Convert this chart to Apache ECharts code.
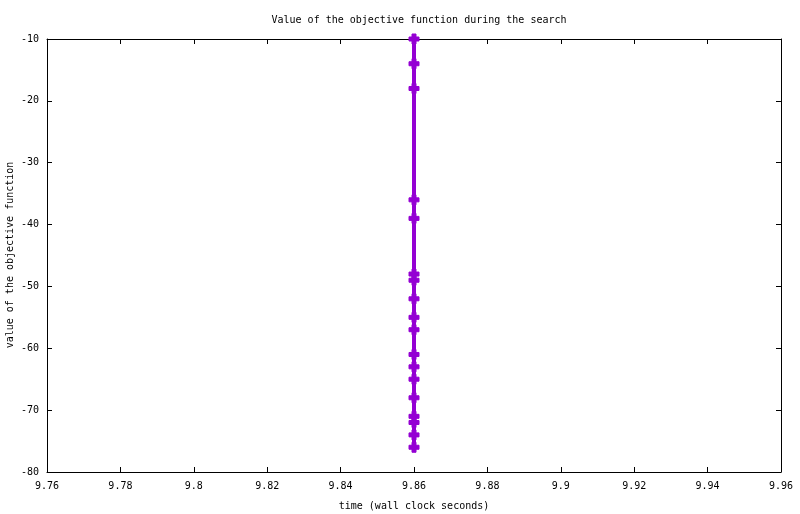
<!DOCTYPE html>
<html>
<head>
<meta charset="utf-8">
<script src="https://cdn.jsdelivr.net/npm/echarts@6/dist/echarts.min.js"></script>
<style>html,body{margin:0;padding:0;background:#fff;}#c{width:800px;height:514px;}</style>
</head>
<body>
<div id="c"></div>
<script>
var timeValues = [9.86, 9.86, 9.86, 9.86, 9.86, 9.86, 9.86, 9.86, 9.86, 9.86, 9.86, 9.86, 9.86, 9.86, 9.86, 9.86, 9.86, 9.86];
var objectiveValues = [-10, -14, -18, -36, -39, -48, -49, -52, -55, -57, -61, -63, -65, -68, -71, -72, -74, -76];
var xTicks = {min: 9.76, max: 9.96, interval: 0.02};
var yTicks = {min: -80, max: -10, interval: 10};
var yAxisTitle = 'value of the objective function';

var FONT = 'DejaVu Sans Mono';
var chart = echarts.init(document.getElementById('c'), null, {renderer: 'canvas'});
var pts = timeValues.map(function (t, i) { return [t, objectiveValues[i]]; });
var lineStyle = {color: '#000', width: 1};
var tick = {show: true, inside: true, length: 5, lineStyle: {color: '#000', width: 1}};
function fmtX(v) { return String(parseFloat(v.toFixed(2))); }
chart.setOption({
  animation: false,
  backgroundColor: '#fff',
  textStyle: {fontFamily: FONT},
  title: {
    text: 'Value of the objective function during the search',
    left: 414, top: 10, textAlign: 'center',
    textStyle: {fontFamily: FONT, fontSize: 10, fontWeight: 'normal', color: '#000'}
  },
  graphic: [{
    type: 'text', x: 10, y: 255, rotation: Math.PI / 2,
    style: {text: yAxisTitle, fill: '#000', font: '10px "DejaVu Sans Mono"', align: 'center', verticalAlign: 'middle'}
  }],
  grid: {left: 47, right: 19, top: 39, bottom: 42, containLabel: false, outerBoundsMode: 'none'},
  xAxis: [{
    type: 'value', min: xTicks.min, max: xTicks.max, interval: xTicks.interval,
    name: 'time (wall clock seconds)', nameLocation: 'middle', nameGap: 29, nameMoveOverlap: false,
    nameTextStyle: {fontFamily: FONT, fontSize: 10, color: '#000'},
    axisLine: {show: true, lineStyle: lineStyle, onZero: false},
    axisTick: tick, splitLine: {show: false},
    axisLabel: {fontFamily: FONT, fontSize: 10, color: '#000', margin: 9, formatter: fmtX}
  }, {
    type: 'value', position: 'top', min: xTicks.min, max: xTicks.max, interval: xTicks.interval,
    axisLine: {show: true, lineStyle: lineStyle, onZero: false},
    axisTick: tick, splitLine: {show: false}, axisLabel: {show: false}
  }],
  yAxis: [{
    type: 'value', min: yTicks.min, max: yTicks.max, interval: yTicks.interval,
    axisLine: {show: true, lineStyle: lineStyle, onZero: false},
    axisTick: tick, splitLine: {show: false},
    axisLabel: {fontFamily: FONT, fontSize: 10, color: '#000', margin: 8}
  }, {
    type: 'value', position: 'right', min: yTicks.min, max: yTicks.max, interval: yTicks.interval,
    axisLine: {show: true, lineStyle: lineStyle, onZero: false},
    axisTick: tick, splitLine: {show: false}, axisLabel: {show: false}
  }],
  series: [{
    type: 'line', xAxisIndex: 0, yAxisIndex: 0,
    data: pts,
    lineStyle: {color: '#9400D3', width: 4},
    itemStyle: {color: '#9400D3', borderColor: '#9400D3', borderWidth: 1},
    symbol: 'path://M0,3H10V7H0Z M3,0H7V10H3Z',
    symbolSize: [10, 10],
    showSymbol: true,
    clip: false
  }]
});
</script>
</body>
</html>
